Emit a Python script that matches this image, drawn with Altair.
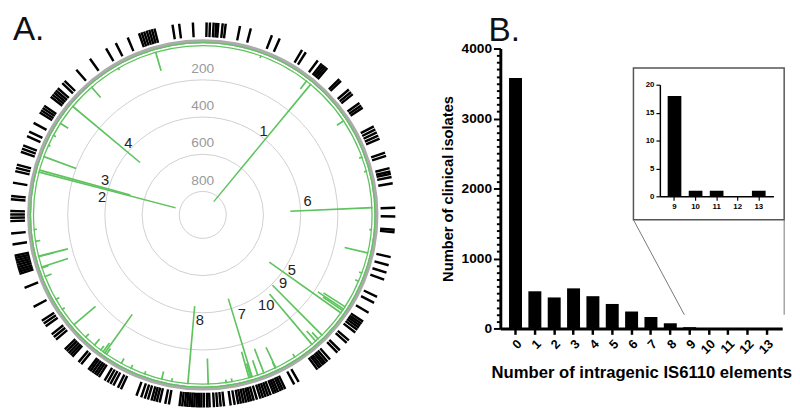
import math
import altair as alt
import pandas as pd

FONT = "Liberation Sans"
GREEN = "#5fc35f"
TAU = 2 * math.pi

# ---------------- Panel A data ----------------
# positions of genes (black ticks) around the genome, degrees clockwise from top
GENE_ANGLES = [
    1.0, 2.0, 3.1, 3.9, 4.5, 5.8, 6.7, 11.0, 14.3, 20.9, 23.4, 30.9, 32.2, 36.5,
    38.0, 38.7, 39.4, 40.1, 45.0, 45.7, 49.2, 50.2, 51.0, 54.3, 55.2, 56.0,
    62.5, 63.5, 64.5, 65.5, 66.5, 71.0, 72.0, 75.8, 76.8, 77.5, 78.5, 80.4,
    87.7, 90.3, 94.3, 95.0, 102.5, 105.0, 107.3, 109.5, 115.0, 117.0, 120.4,
    123.5, 124.3, 125.0, 125.7, 126.5, 127.5, 130.5, 131.5, 134.5, 135.5, 138.5,
    139.5, 140.3, 141.0, 141.8, 142.5, 143.3, 150.0, 151.5, 154.5, 155.3, 156.0,
    156.8, 157.5, 158.2, 159.2, 160.0, 160.8, 161.6, 162.4, 163.5, 164.5, 165.3,
    166.0, 166.8, 167.6, 168.4, 169.2, 170.3, 171.5, 173.5, 174.5, 175.5, 176.5,
    177.8, 178.5, 179.5, 180.3, 181.0, 181.7, 182.4, 183.1, 183.8, 184.5, 185.2,
    186.0, 186.8, 190.0, 191.1, 192.8, 193.7, 194.5, 195.3, 196.4, 197.4, 198.5,
    200.0, 205.0, 206.0, 207.5, 208.5, 209.5, 210.5, 212.5, 213.3, 214.0, 214.8,
    215.6, 216.3, 219.0, 220.0, 222.5, 223.2, 224.0, 224.8, 225.6, 229.5, 230.5,
    231.5, 234.5, 235.5, 236.5, 241.3, 247.6, 252.0, 252.7, 253.4, 254.1, 254.8,
    255.5, 256.2, 256.9, 257.6, 261.0, 264.3, 268.0, 269.0, 270.0, 271.0, 274.5,
    275.5, 279.5, 283.0, 284.0, 285.0, 289.0, 290.0, 291.0, 294.0, 295.5, 298.4,
    302.0, 302.8, 303.6, 304.4, 307.7, 308.5, 309.3, 310.1, 311.0, 313.0, 314.0,
    318.8, 324.0, 329.7, 333.0, 336.9, 340.5, 341.3, 342.1, 342.9, 343.7, 344.5,
    345.3, 350.8, 352.8, 356.9,
]

# IS6110 insertion hotspots: angle (deg) and number of clinical isolates
SPIKE_ANGLES = [
    39.5, 284.6, 285.3, 309.8, 125.3, 87.5, 163.0, 185.0, 135.2, 139.8,
    343.8, 318.9, 302.7, 290.1, 294.2, 56.2, 37.7, 102.9, 122.8, 123.7, 124.3,
    255.8, 252.0, 255.7, 251.7, 248.6, 261.0, 229.5, 223.7, 215.3, 216.0, 214.6,
    217.0, 219.7, 208.7, 194.0, 178.1, 164.1, 163.5, 161.0, 158.8, 154.4, 154.6,
    138.1, 137.0, 190.5, 20.0, 70.0, 75.0, 95.0, 110.0, 113.0, 147.0, 170.0,
    172.0, 200.0, 205.0, 236.0, 240.0, 265.0, 298.0, 330.0,
]
SPIKE_COUNTS = [
    830, 772, 518, 483, 484, 452, 452, 430, 390, 366,
    116, 86, 62, 197, 24, 55, 66, 140, 150, 178, 140,
    175, 161, 95, 49, 50, 38, 165, 37, 267, 70, 50,
    40, 55, 42, 55, 150, 158, 90, 96, 151, 134, 48,
    85, 60, 30, 24, 28, 25, 24, 28, 32, 32, 30,
    28, 28, 32, 28, 32, 28, 28, 24,
]

LABEL_IDS = ["1", "2", "3", "4", "5", "6", "7", "8", "9", "10"]
LABEL_ANGLES = [35.8, 279.9, 289.8, 313.8, 121.6, 82.5, 158.4, 181.6, 130.5, 144.8]
LABEL_RADII = [368, 376, 368, 372, 364, 358, 355, 358, 359, 334]

RING_VALUES = [200, 400, 600, 800]
BASELINE = [16]

# ---------------- Panel B data ----------------
ELEMENTS = [str(i) for i in range(14)]
ISOLATES = [3580, 531, 443, 573, 461, 350, 242, 163, 74, 18, 1, 1, 0, 1]
INSET_ELEMENTS = ["9", "10", "11", "12", "13"]
INSET_ISOLATES = [18, 1, 1, 0, 1]
MINOR_TICKS = list(range(0, 4001, 100))

H = 403

# ---------------- Panel A ----------------
theta_scale = alt.Scale(domain=[0, 360], range=[0, TAU])
r_scale = alt.Scale(type="linear", domain=[0, 900], range=[176, 5])
CX, CY = 192, 207
ctr = dict(x=alt.value(CX), y=alt.value(CY))
one = pd.DataFrame({"k": [1]})

rings = alt.Chart(pd.DataFrame({"v": RING_VALUES})).mark_arc(
    theta=0, theta2=TAU, fillOpacity=0, stroke="#cfcfcf", strokeWidth=1
).encode(radius=alt.Radius("v:Q", scale=r_scale, stack=False), **ctr)

ring_labels = alt.Chart(pd.DataFrame({"v": RING_VALUES})).transform_calculate(
    lv="datum.v - 58"
).mark_text(font=FONT, fontSize=14, color="#9a9a9a").encode(
    theta=alt.value(0), radius=alt.Radius("lv:Q", scale=r_scale), text="v:Q", **ctr
)

outer_ring = alt.Chart(one).mark_arc(
    theta=0, theta2=TAU, fill="#ababab"
).encode(radius=alt.value(179.5), radius2=alt.value(175.7), **ctr)

base_circle = alt.Chart(pd.DataFrame({"v": BASELINE})).mark_arc(
    theta=0, theta2=TAU, fillOpacity=0, stroke=GREEN, strokeWidth=1.3
).encode(radius=alt.Radius("v:Q", scale=r_scale, stack=False), **ctr)

spikes = alt.Chart(pd.DataFrame({"ang": SPIKE_ANGLES, "cnt": SPIKE_COUNTS})).transform_calculate(
    ang2="datum.ang + 0.12", base=str(BASELINE[0])
).mark_arc(fill=GREEN, stroke=GREEN, strokeWidth=1.4).encode(
    theta=alt.Theta("ang:Q", scale=theta_scale),
    theta2="ang2:Q",
    radius=alt.Radius("cnt:Q", scale=r_scale),
    radius2="base:Q",
    **ctr,
)

genes = alt.Chart(pd.DataFrame({"ang": GENE_ANGLES})).transform_calculate(
    ang2="datum.ang + 0.3"
).mark_arc(fill="black", stroke="black", strokeWidth=1.5).encode(
    theta=alt.Theta("ang:Q", scale=theta_scale),
    theta2="ang2:Q",
    radius=alt.value(196),
    radius2=alt.value(182.5),
    **ctr,
)

labels = alt.Chart(pd.DataFrame({"id": LABEL_IDS, "ang": LABEL_ANGLES, "r": LABEL_RADII})).mark_text(
    font=FONT, fontSize=15, color="#222222"
).encode(
    theta=alt.Theta("ang:Q", scale=theta_scale),
    radius=alt.Radius("r:Q", scale=r_scale),
    text="id:N",
    **ctr,
)

a_text = alt.Chart(one).mark_text(
    text="A.", font=FONT, fontSize=34, align="left", baseline="top", color="#111111"
).encode(x=alt.value(-2), y=alt.value(1))

panel_a = alt.layer(
    rings, ring_labels, outer_ring, base_circle, spikes, genes, labels, a_text
).properties(width=384, height=H)

# ---------------- Panel B ----------------
main_bars = alt.Chart(pd.DataFrame({"n": ELEMENTS, "cnt": ISOLATES})).mark_bar(color="black").encode(
    x=alt.X(
        "n:O",
        sort=ELEMENTS,
        scale=alt.Scale(range=[105, 393], paddingInner=0.33, paddingOuter=0.45),
        axis=alt.Axis(
            title="Number of intragenic IS6110 elements",
            orient="bottom",
            offset=323 - H,
            labelAngle=-45,
            labelFont=FONT,
            labelFontSize=13,
            labelFontWeight="bold",
            labelColor="black",
            labelPadding=3,
            titleFont=FONT,
            titleFontSize=17,
            titleFontWeight="bold",
            titleColor="black",
            titlePadding=9,
            domainColor="black",
            domainWidth=3,
            tickColor="black",
            tickWidth=2.5,
            tickSize=6,
        ),
    ),
    y=alt.Y(
        "cnt:Q",
        scale=alt.Scale(domain=[0, 4000], range=[323, 37], nice=False),
        axis=alt.Axis(
            title="Number of clinical isolates",
            orient="left",
            offset=-105,
            values=MINOR_TICKS,
            format="d",
            labelExpr="datum.value % 1000 === 0 ? datum.label : ''",
            tickSize={"condition": {"test": "datum.value % 1000 === 0", "value": 7}, "value": 4},
            grid=False,
            labelFont=FONT,
            labelFontSize=14,
            labelFontWeight="bold",
            labelColor="black",
            labelPadding=2,
            titleFont=FONT,
            titleFontSize=15,
            titleFontWeight="bold",
            titleColor="black",
            titlePadding=6,
            domainColor="black",
            domainWidth=3,
            tickColor="black",
            tickWidth=2,
        ),
    ),
)

box = alt.Chart(one).mark_rect(fill="white", stroke="#555555", strokeWidth=1.5).encode(
    x=alt.value(241), x2=alt.value(395), y=alt.value(57), y2=alt.value(212)
)

connector1 = alt.Chart(one).mark_rule(color="#777777", strokeWidth=1).encode(
    x=alt.value(241), y=alt.value(212), x2=alt.value(293), y2=alt.value(309)
)
connector2 = alt.Chart(one).mark_rule(color="#777777", strokeWidth=1).encode(
    x=alt.value(395), y=alt.value(212), x2=alt.value(395), y2=alt.value(309)
)

inset_bars = alt.Chart(pd.DataFrame({"n": INSET_ELEMENTS, "cnt": INSET_ISOLATES})).mark_bar(color="black").encode(
    x=alt.X(
        "n:O",
        sort=INSET_ELEMENTS,
        scale=alt.Scale(range=[268, 384], paddingInner=0.35, paddingOuter=0.37),
        axis=alt.Axis(
            title=None,
            orient="bottom",
            offset=188 - H,
            labelAngle=0,
            labelFont=FONT,
            labelFontSize=8,
            labelFontWeight="bold",
            labelColor="black",
            labelPadding=2,
            domainColor="black",
            domainWidth=1.5,
            tickColor="black",
            tickWidth=1.2,
            tickSize=4,
            zindex=2,
        ),
    ),
    y=alt.Y(
        "cnt:Q",
        scale=alt.Scale(domain=[0, 20], range=[188, 74], nice=False),
        axis=alt.Axis(
            title=None,
            orient="left",
            offset=-268,
            values=[0, 5, 10, 15, 20],
            grid=False,
            labelFont=FONT,
            labelFontSize=8,
            labelFontWeight="bold",
            labelColor="black",
            labelPadding=2,
            domainColor="black",
            domainWidth=1.5,
            tickColor="black",
            tickWidth=1.2,
            tickSize=4,
            zindex=2,
        ),
    ),
)

b_text = alt.Chart(one).mark_text(
    text="B.", font=FONT, fontSize=34, align="left", baseline="top", color="#111111"
).encode(x=alt.value(93), y=alt.value(2))

panel_b = alt.layer(
    main_bars, box, connector1, connector2, inset_bars, b_text
).resolve_scale(x="independent", y="independent").properties(width=394, height=H)

chart = alt.hconcat(panel_a, panel_b, spacing=0).properties(padding=0).configure_view(strokeWidth=0)

chart.save("out.html", embed_options={"renderer": "svg", "actions": False})
